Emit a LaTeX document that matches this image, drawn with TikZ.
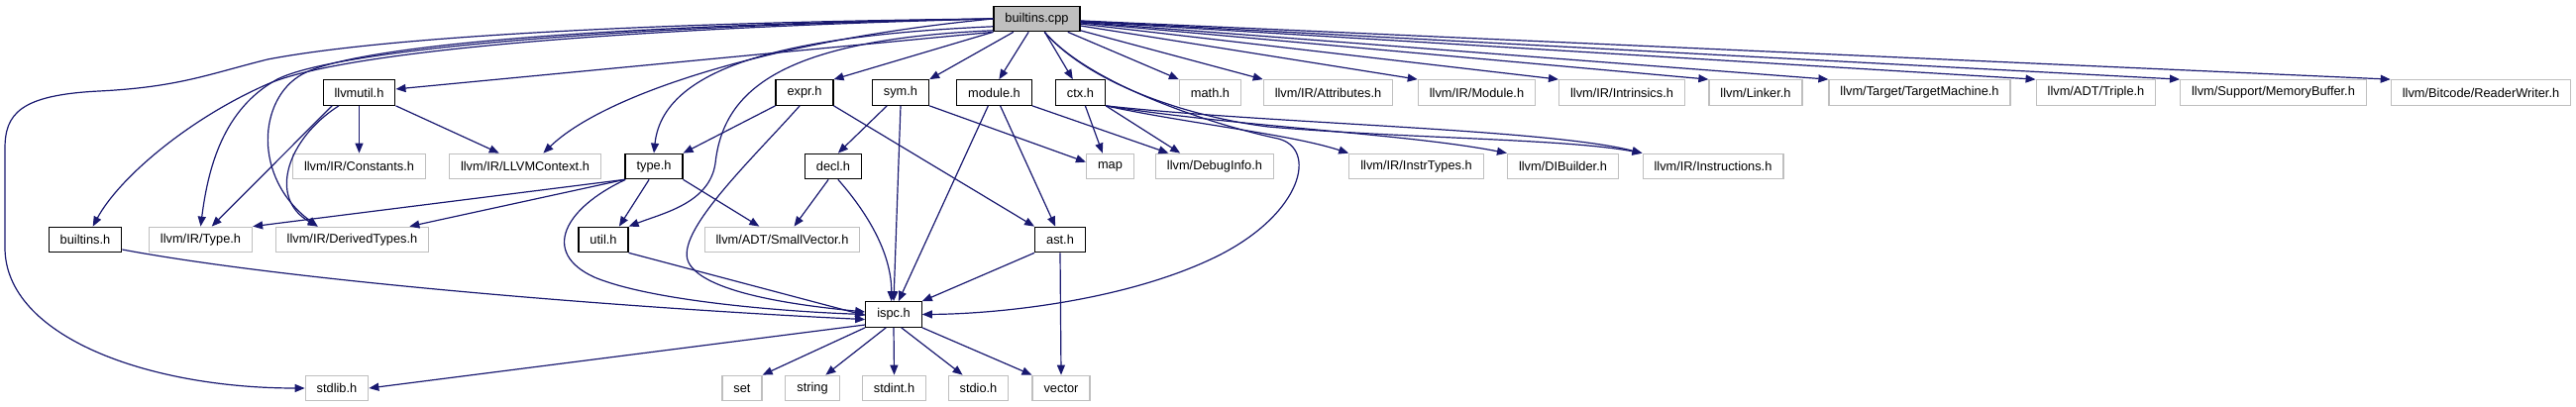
\documentclass[tikz,border=0pt]{standalone}
\usepackage{fontspec}
\setmainfont{Liberation Sans}
\usetikzlibrary{arrows.meta}
\definecolor{depblue}{RGB}{25,25,112}
\definecolor{boxgray}{RGB}{191,191,191}
\tikzset{
  box/.style={rectangle,fill=white,inner xsep=11.5pt,inner ysep=0pt,minimum height=25.5pt,font=\fontsize{12.8}{15}\selectfont},
  hdr/.style={box,draw=black,line width=1.2pt},
  ext/.style={box,draw=boxgray,line width=1.2pt},
  src/.style={hdr,fill=boxgray},
  dep/.style={draw=depblue,line width=1.2pt,-{Triangle[length=10pt,width=8pt]}}
}
\begin{document}
\begin{tikzpicture}[x=1pt,y=-1pt]
\useasboundingbox (0,0) rectangle (2600,411);

% top
\node[src] (cpp) at (1046.5,19) {builtins.cpp};

% second row
\node[hdr] (lvu) at (362.5,93.5) {llvmutil.h};
\node[hdr] (expr) at (812,93.5) {expr.h};
\node[hdr] (sym) at (909,93.5) {sym.h};
\node[hdr] (modh) at (1003.5,93.5) {module.h};
\node[hdr] (ctx) at (1090.5,93.5) {ctx.h};
\node[ext] (mathh) at (1221.5,93.5) {math.h};
\node[ext] (attr) at (1340.5,93.5) {llvm/IR/Attributes.h};
\node[ext] (irmod) at (1490.5,93.5) {llvm/IR/Module.h};
\node[ext] (intr) at (1637,93.5) {llvm/IR/Intrinsics.h};
\node[ext] (linker) at (1772,93.5) {llvm/Linker.h};
\node[ext] (tmach) at (1937.5,93.5) {llvm/Target/TargetMachine.h};
\node[ext] (triple) at (2115.5,93.5) {llvm/ADT/Triple.h};
\node[ext] (membuf) at (2294.5,93.5) {llvm/Support/MemoryBuffer.h};
\node[ext] (rdwr) at (2504,93.5) {llvm/Bitcode/ReaderWriter.h};

% third row
\node[ext] (consts) at (362.5,168) {llvm/IR/Constants.h};
\node[ext] (lctx) at (530,168) {llvm/IR/LLVMContext.h};
\node[hdr] (typeh) at (660,168) {type.h};
\node[hdr] (decl) at (841,168) {decl.h};
\node[ext] (map) at (1120.5,168) {map};
\node[ext] (dbg) at (1226,168) {llvm/DebugInfo.h};
\node[ext] (itypes) at (1429.5,168) {llvm/IR/InstrTypes.h};
\node[ext] (dib) at (1577.5,168) {llvm/DIBuilder.h};
\node[ext] (instr) at (1729,168) {llvm/IR/Instructions.h};

% fourth row
\node[hdr] (bh) at (86,242) {builtins.h};
\node[ext] (ltype) at (202.5,242) {llvm/IR/Type.h};
\node[ext] (dtypes) at (355.5,242) {llvm/IR/DerivedTypes.h};
\node[hdr] (util) at (609,242) {util.h};
\node[ext] (svec) at (789.5,242) {llvm/ADT/SmallVector.h};
\node[hdr] (ast) at (1070,242) {ast.h};

\node[hdr] (ispc) at (902,317.5) {ispc.h};

% bottom row
\node[ext] (stdlib) at (340,392) {stdlib.h};
\node[ext] (set) at (749,392) {set};
\node[ext] (string) at (820,392) {string};
\node[ext] (stdint) at (902.5,392) {stdint.h};
\node[ext] (stdio) at (987.5,392) {stdio.h};
\node[ext] (vector) at (1071,392) {vector};

% builtins.cpp
\draw[dep] (cpp.west) .. controls (700,22) and (400,35) .. (270,60) .. controls (210,75) and (180,88) .. (100,92) .. controls (20,96) and (5,115) .. (5,150) -- (5,250) .. controls (5,340) and (150,392) .. (stdlib.west);
\draw[dep] (cpp.west) .. controls (650,28) and (350,50) .. (270,85) .. controls (190,120) and (120,180) .. (bh.60);
\draw[dep] (cpp.west) .. controls (620,26) and (340,50) .. (280,80) .. controls (225,110) and (210,170) .. (ltype.north);
\draw[dep] (cpp.west) .. controls (620,25) and (360,45) .. (305,75) .. controls (260,100) and (255,180) .. (dtypes.159);
\draw[dep] (cpp.south west) -- (lvu);
\draw[dep] (cpp.west) .. controls (780,40) and (610,95) .. (lctx.36);
\draw[dep] (cpp.190) .. controls (820,35) and (670,60) .. (typeh.north);
\draw[dep] (cpp.195) .. controls (790,40) and (730,90) .. (722,165) .. controls (716,205) and (670,215) .. (util.north east);
\draw[dep] (cpp.south west) -- (expr.north east);
\draw[dep] (cpp) -- (sym.north east);
\draw[dep] (cpp) -- (modh.70);
\draw[dep] (cpp) -- (ctx.120);
\foreach \n in {mathh,attr,irmod,intr,linker,tmach,triple,membuf,rdwr}
  \draw[dep] (cpp) -- (\n.north west);
\draw[dep] (cpp.300) .. controls (1100,85) and (1220,125) .. (1290,140) .. controls (1330,150) and (1315,215) .. (1230,258) .. controls (1140,303) and (1010,317) .. (ispc.east);
\draw[dep] (cpp.300) .. controls (1100,85) and (1200,118) .. (1280,128) .. controls (1420,140) and (1580,140) .. (instr.north west);

% llvmutil.h
\draw[dep] (lvu.206) -- (ltype.50);
\draw[dep] (lvu.213) .. controls (290,140) and (270,200) .. (dtypes.159);
\draw[dep] (lvu) -- (consts);
\draw[dep] (lvu.south east) -- (lctx.153);

% expr.h, sym.h, module.h, ctx.h
\draw[dep] (expr.south west) -- (typeh.north east);
\draw[dep] (expr.250) .. controls (760,160) and (680,235) .. (695,265) .. controls (710,295) and (800,308) .. (ispc.175);
\draw[dep] (expr.south east) -- (ast.north west);
\draw[dep] (sym.south east) -- (map.170);
\draw[dep] (sym) -- (decl.70);
\draw[dep] (sym.south) -- (ispc.north);
\draw[dep] (modh.south east) -- (dbg.164);
\draw[dep] (modh) -- (ispc.70);
\draw[dep] (modh) -- (ast.110);
\draw[dep] (ctx) -- (map.120);
\draw[dep] (ctx.south east) -- (dbg.159);
\draw[dep] (ctx.south east) .. controls (1200,125) and (1300,135) .. (itypes.north west);
\draw[dep] (ctx.south east) .. controls (1250,128) and (1420,135) .. (dib.north west);
\draw[dep] (ctx.south east) .. controls (1280,125) and (1560,130) .. (instr.north west);

% type.h, decl.h
\draw[dep] (typeh.south west) -- (ltype.north east);
\draw[dep] (typeh.south west) -- (dtypes.13);
\draw[dep] (typeh.250) -- (util.40);
\draw[dep] (typeh.south east) -- (svec.150);
\draw[dep] (typeh.205) .. controls (570,210) and (545,255) .. (600,280) .. controls (660,305) and (800,315) .. (ispc.west);
\draw[dep] (decl.250) -- (svec.48);
\draw[dep] (decl.290) .. controls (880,220) and (900,260) .. (ispc.100);

% fourth row to ispc.h
\draw[dep] (bh.-15) .. controls (300,285) and (650,312) .. (ispc.190);
\draw[dep] (util.south east) -- (ispc.182);
\draw[dep] (ast.south west) -- (ispc.north east);
\draw[dep] (ast.south) -- (vector.north);

% ispc.h
\draw[dep] (ispc.200) -- (stdlib.east);
\draw[dep] (ispc.south west) -- (set.north east);
\draw[dep] (ispc.240) -- (string.45);
\draw[dep] (ispc.south) -- (stdint.north);
\draw[dep] (ispc.300) -- (stdio.140);
\draw[dep] (ispc.south east) -- (vector.north west);
\end{tikzpicture}
\end{document}
